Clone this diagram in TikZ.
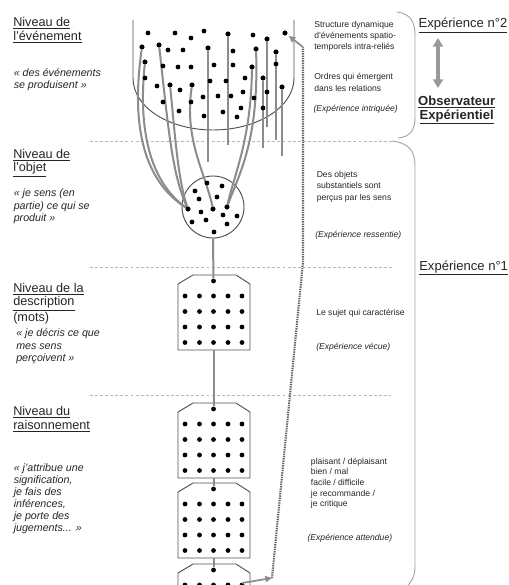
\documentclass[tikz,border=0pt]{standalone}
\usepackage{fontspec}
\setmainfont{Liberation Sans}
\usetikzlibrary{arrows.meta}
\definecolor{txt}{HTML}{262626}
\definecolor{ln}{HTML}{8C8C8C}
\definecolor{edge}{HTML}{505050}
\begin{document}
\begin{tikzpicture}[x=0.75pt,y=-0.75pt,
  dot/.style={circle,fill=black,inner sep=0pt,minimum size=3.6pt},
  strand/.style={draw=ln,line width=1.5pt},
  outline/.style={draw=edge,line width=0.7pt},
  sep/.style={draw=black!28,dash pattern=on 2.2pt off 1.6pt,line width=0.55pt},
  bracket/.style={draw=black!35,line width=0.7pt},
  loopline/.style={draw=black!62,line width=1.6pt,dash pattern=on 1pt off 0.75pt},
  head/.style={anchor=base west,inner sep=0pt,align=left,text=txt,font=\fontsize{9.5}{10.3}\selectfont},
  quote/.style={anchor=base west,inner sep=0pt,align=left,text=txt,font=\fontsize{8}{9.3}\selectfont\itshape},
  small/.style={anchor=base west,inner sep=0pt,align=left,text=txt,font=\fontsize{6.45}{8.4}\selectfont},
  exp/.style={inner sep=0pt,text=txt,font=\fontsize{9.8}{11}\selectfont}
]
\useasboundingbox (0,0) rectangle (508,585);
\fill[white] (0,0) rectangle (508,585);

% separators
\draw[sep] (90,141) -- (396,141);
\draw[sep] (90,267) -- (394,267);
\draw[sep] (90,395) -- (391,395);

% brackets
\draw[bracket] (397,12) .. controls (411,14) and (415,22) .. (415,36) -- (415,118) .. controls (415,130) and (410,137) .. (398,138);
\draw[bracket] (392,141) .. controls (409,143) and (415,151) .. (415,166) -- (415,566) .. controls (415,576) and (412,582) .. (406,587);

% bowl
\draw[outline] (133,20) -- (133,78) .. controls (133,108) and (170,130) .. (213,130) .. controls (256,130) and (294,108) .. (294,78) -- (294,20);

% circle (object level)
\node[circle,outline,minimum size=46.5pt,inner sep=0pt] (obj) at (213,207) {};

% named dots used by strands
\node[dot] (a1) at (142,47) {};
\node[dot] (a2) at (145,62) {};
\node[dot] (a4) at (159,45) {};
\node[dot] (a5) at (170,85) {};
\node[dot] (a6) at (192,85) {};
\node[dot] (a7) at (256,49) {};
\node[dot] (a8) at (252,67) {};
\node[dot] (v1) at (208,48) {};
\node[dot] (v2) at (228,34) {};
\node[dot] (v3) at (267,39) {};
\node[dot] (v4) at (276,52) {};
\node[dot] (v5) at (282,87) {};
\node[dot] (v6) at (263,78) {};
\node[dot] (tg) at (285,33) {};
\node[dot] (ol) at (188,209) {};
\node[dot] (oc) at (213,209) {};
\node[dot] (or) at (227,207) {};
\coordinate (v1e) at (208,162);
\coordinate (v2e) at (228,145);
\coordinate (v3e) at (267,127);
\coordinate (v4e) at (276,140);
\coordinate (v5e) at (282,156);
\coordinate (v6e) at (263,148);

% strands
\draw[strand] (a1) .. controls (131,125) and (143,180) .. (ol);
\draw[strand] (a2) .. controls (138,130) and (150,182) .. (ol);
\draw[strand] (a4) .. controls (168,125) and (172,175) .. (ol);
\draw[strand] (a5) .. controls (175,135) and (178,180) .. (ol);
\draw[strand] (a6) .. controls (184,140) and (205,172) .. (oc);
\draw[strand] (a7) .. controls (259,140) and (240,172) .. (or);
\draw[strand] (a8) .. controls (251,140) and (234,175) .. (or);
\draw[strand] (v1) -- (v1e);
\draw[strand] (v2) -- (v2e);
\draw[strand] (v3) -- (v3e);
\draw[strand] (v4) -- (v4e);
\draw[strand] (v5) -- (v5e);
\draw[strand] (v6) -- (v6e);

% redraw named dots on top
\foreach \n in {a1,a2,a4,a5,a6,a7,a8,v1,v2,v3,v4,v5,v6,tg,ol,oc,or}
  \fill (\n) circle[radius=1.8pt];

% other bowl dots
\foreach \x/\y [count=\i] in {148/33,175/33,191/38,204/31,253/35,
  168/50,183/50,233/51,
  163/66,178/67,191/67,214/65,233/65,276/64,
  145/78,210/81,226/81,245/78,
  157/86,180/90,203/97,218/96,231/96,243/92,254/98,267/92,
  163/102,191/102,179/111,204/116,223/112,237/117,241/108,263/108}
  \node[dot] (e\i) at (\x,\y) {};

% other circle dots
\foreach \x/\y [count=\i] in {207/183,222/186,195/191,217/197,199/199,201/212,223/215,237/216,192/222,206/220,227/224,214/232}
  \node[dot] (c\i) at (\x,\y) {};

% boxes (description / reasoning)
\begin{scope}
\clip (0,0) rectangle (508,585);
\foreach \t/\n in {275/1,403/2,483/3,564/4}{
  \draw[outline] (178,\t+9) -- (193,\t) -- (236,\t) -- (250,\t+9) -- (250,\t+75) -- (178,\t+75) -- cycle;
  \coordinate (bb\n) at (213.5,\t+75);
  \node[dot] (t\n) at (213.5,\t+6) {};
  \foreach \yy [count=\r] in {21,36.5,52,67.5}
    \foreach \xx [count=\c] in {185,199.5,213.5,228,242}
      \node[dot] (d\n-\r-\c) at (\xx,\t+\yy) {};
}
\coordinate (last) at (242,583);
\draw[strand] (obj.south) -- (t1);
\draw[strand] (bb1) -- (t2);
\draw[strand] (bb2) -- (t3);
\draw[strand] (bb3) -- (t4);
\coordinate (m1) at (272,578);
\coordinate (m2) at (303,262);
\coordinate (m3) at (303,47);
\draw[strand,line width=1.3pt,-{Triangle[length=5pt,width=4.5pt]}] (last) -- (m1);
\end{scope}
\draw[loopline] (m1) -- (m2) -- (m3);
\draw[strand,line width=1.3pt,shorten >=1.5pt,-{Triangle[length=5pt,width=4.5pt]}] (m3) -- (tg);

% double arrow
\coordinate (ar1) at (438,38);
\coordinate (ar2) at (438,88);
\draw[draw=black!40,line width=3pt,{Triangle[length=6.5pt,width=7.5pt]}-{Triangle[length=6.5pt,width=7.5pt]}] (ar1) -- (ar2);

% left texts (positions = baseline of last line)
\node[head,font=\fontsize{9.5}{10.6}\selectfont] (h1) at (13,40.6) {\underline{Niveau de}\\\underline{l'événement}};
\node[quote] (q1) at (13.5,88.4) {« des événements\\se produisent »};
\node[head,font=\fontsize{9.5}{9.9}\selectfont] (h2) at (13,171.5) {\underline{Niveau de}\\\underline{l'objet}};
\node[quote] (q2) at (13.5,221.5) {« je sens (en\\partie) ce qui se\\produit »};
\node[head] (h3) at (13,321.8) {\underline{Niveau de la}\\\underline{description}\\(mots)};
\node[quote] (q3) at (16,361.5) {« je décris ce que\\mes sens\\perçoivent »};
\node[head] (h4) at (13,429.4) {\underline{Niveau du}\\\underline{raisonnement}};
\node[quote,font=\fontsize{8}{9}\selectfont\itshape] (q4) at (13.5,531.7) {« j'attribue une\\signification,\\je fais des\\inférences,\\je porte des\\jugements... »};

% middle texts
\node[small] (m1t) at (314,49.7) {Structure dynamique\\d'événements spatio-\\temporels intra-reliés};
\node[small] (m2t) at (314,91.2) {Ordres qui émergent\\dans les relations};
\node[small,font=\fontsize{6.45}{8.4}\selectfont\itshape] (m3t) at (313.3,111.7) {(Expérience intriquée)};
\node[small] (m4t) at (316.5,200.1) {Des objets\\substantiels sont\\perçus par les sens};
\node[small,font=\fontsize{6.45}{8.4}\selectfont\itshape] (m5t) at (315,237.3) {(Expérience ressentie)};
\node[small] (m6t) at (316,315.7) {Le sujet qui caractérise};
\node[small,font=\fontsize{6.45}{8.4}\selectfont\itshape] (m7t) at (316,349) {(Expérience vécue)};
\node[small,font=\fontsize{6.45}{8}\selectfont] (m8t) at (310.7,506.7) {plaisant / déplaisant\\bien / mal\\facile / difficile\\je recommande /\\je critique};
\node[small,font=\fontsize{6.45}{8.4}\selectfont\itshape] (m9t) at (307.3,540) {(Expérience attendue)};

% right labels
\node[exp,anchor=base west] (x2) at (418.3,28) {\underline{Expérience n°2}};
\node[exp,anchor=base,font=\fontsize{9.8}{11}\selectfont\bfseries] (obs) at (456.7,105) {\underline{Observateur}};
\node[exp,anchor=base,font=\fontsize{9.8}{11}\selectfont\bfseries] (obs2) at (456.7,119) {\underline{Expérientiel}};
\node[exp,anchor=base west] (x1) at (419,270) {\underline{Expérience n°1}};
\end{tikzpicture}
\end{document}
